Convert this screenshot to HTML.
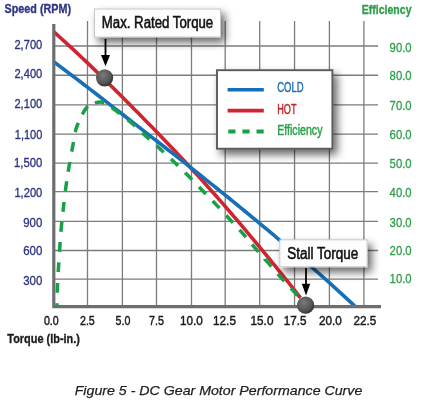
<!DOCTYPE html><html><head><meta charset="utf-8"><style>html,body{margin:0;padding:0;background:#fff;}svg{display:block;will-change:transform;}</style></head><body>
<svg width="434" height="417" viewBox="0 0 434 417">
<defs><filter id="sh" x="-30%" y="-40%" width="170%" height="200%"><feGaussianBlur in="SourceAlpha" stdDeviation="4"/><feOffset dx="4" dy="5" result="b"/><feComponentTransfer><feFuncA type="linear" slope="0.6"/></feComponentTransfer><feMerge><feMergeNode/><feMergeNode in="SourceGraphic"/></feMerge></filter><radialGradient id="dot" cx="40%" cy="35%" r="65%"><stop offset="0" stop-color="#7a7a7a"/><stop offset="0.7" stop-color="#555"/><stop offset="1" stop-color="#333"/></radialGradient></defs>
<rect width="434" height="417" fill="#fff"/>
<path d="M87.5 21V307M122.4 21V307M156.5 21V307M191.5 21V307M225.2 21V307M259.7 21V307M294.55 21V307M329.4 21V307M363.9 21V307M54 46.0H378M54 75.25H378M54 104.9H378M54 134.2H378M54 163.1H378M54 191.6H378M54 221.35H378M54 250.5H378M54 279.2H378" stroke="#7c7c7c" stroke-width="1.3" fill="none"/>
<path d="M53.60 31.67 L56.73 34.46 L59.85 37.27 L62.98 40.10 L66.10 42.94 L69.23 45.81 L72.35 48.69 L75.48 51.60 L78.60 54.52 L81.73 57.46 L84.85 60.41 L87.98 63.39 L91.10 66.38 L94.23 69.39 L97.35 72.42 L100.48 75.46 L103.61 78.51 L106.73 81.58 L109.86 84.66 L112.98 87.76 L116.11 90.86 L119.23 93.98 L122.36 97.10 L125.48 100.23 L128.61 103.37 L131.73 106.52 L134.86 109.68 L137.98 112.85 L141.11 116.02 L144.23 119.20 L147.36 122.39 L150.48 125.59 L153.61 128.79 L156.74 132.01 L159.86 135.24 L162.99 138.48 L166.11 141.73 L169.24 145.00 L172.36 148.28 L175.49 151.58 L178.61 154.89 L181.74 158.22 L184.86 161.56 L187.99 164.93 L191.11 168.31 L194.24 171.71 L197.36 175.13 L200.49 178.56 L203.62 182.02 L206.74 185.50 L209.87 188.99 L212.99 192.50 L216.12 196.04 L219.24 199.59 L222.37 203.15 L225.49 206.74 L228.62 210.34 L231.74 213.97 L234.87 217.60 L237.99 221.26 L241.12 224.93 L244.24 228.62 L247.37 232.33 L250.49 236.05 L253.62 239.79 L256.75 243.55 L259.87 247.32 L263.00 251.10 L266.12 254.91 L269.25 258.73 L272.37 262.56 L275.50 266.41 L278.62 270.28 L281.75 274.16 L284.87 278.05 L288.00 281.97 L291.12 285.89 L294.25 289.84 L297.37 293.80 L300.50 297.77" stroke="#cf2530" stroke-width="3.6" fill="none"/>
<path d="M53.60 61.62 L57.42 64.47 L61.24 67.34 L65.06 70.21 L68.89 73.10 L72.71 75.99 L76.53 78.89 L80.35 81.80 L84.17 84.72 L87.99 87.65 L91.82 90.59 L95.64 93.53 L99.46 96.48 L103.28 99.43 L107.10 102.39 L110.92 105.36 L114.74 108.32 L118.57 111.29 L122.39 114.27 L126.21 117.24 L130.03 120.21 L133.85 123.19 L137.67 126.16 L141.49 129.14 L145.32 132.11 L149.14 135.08 L152.96 138.06 L156.78 141.03 L160.60 144.01 L164.42 146.98 L168.25 149.96 L172.07 152.95 L175.89 155.94 L179.71 158.93 L183.53 161.93 L187.35 164.93 L191.17 167.94 L195.00 170.96 L198.82 173.99 L202.64 177.02 L206.46 180.07 L210.28 183.12 L214.10 186.18 L217.93 189.25 L221.75 192.33 L225.57 195.42 L229.39 198.52 L233.21 201.63 L237.03 204.74 L240.85 207.87 L244.68 211.00 L248.50 214.14 L252.32 217.28 L256.14 220.44 L259.96 223.60 L263.78 226.77 L267.61 229.94 L271.43 233.12 L275.25 236.31 L279.07 239.51 L282.89 242.71 L286.71 245.92 L290.53 249.13 L294.36 252.35 L298.18 255.58 L302.00 258.82 L305.82 262.08 L309.64 265.36 L313.46 268.67 L317.28 272.01 L321.11 275.37 L324.93 278.76 L328.75 282.17 L332.57 285.61 L336.39 289.07 L340.21 292.56 L344.04 296.07 L347.86 299.61 L351.68 303.18 L355.50 306.77" stroke="#1570b8" stroke-width="3.6" fill="none"/>
<path d="M57.00 306.00 L57.00 306.00 L57.01 305.61 L57.02 305.17 L57.02 304.68 L57.03 304.14 L57.04 303.56 L57.05 303.20M57.25 292.70 L57.25 292.63 L57.27 291.78 L57.30 290.94 L57.32 290.11 L57.35 289.29 L57.37 288.49 L57.40 287.70 L57.43 286.92 L57.47 286.13 L57.50 285.34 L57.54 284.54 L57.58 283.73 L57.62 282.91 L57.62 282.90M58.21 272.09 L58.21 272.07 L58.26 271.23 L58.31 270.40 L58.36 269.57 L58.41 268.74 L58.46 267.92 L58.51 267.10 L58.55 266.28 L58.60 265.46 L58.65 264.65 L58.70 263.83 L58.75 263.02 L58.79 262.31M59.46 251.79 L59.47 251.75 L59.52 250.94 L59.58 250.13 L59.63 249.32 L59.69 248.52 L59.74 247.71 L59.80 246.90 L59.86 246.09 L59.91 245.28 L59.97 244.48 L60.03 243.67 L60.08 242.86 L60.14 242.06 L60.14 242.01M60.92 231.68 L60.93 231.61 L61.00 230.80 L61.07 230.00 L61.13 229.20 L61.20 228.40 L61.28 227.60 L61.35 226.80 L61.42 226.00 L61.50 225.20 L61.58 224.41 L61.66 223.61 L61.74 222.82 L61.82 222.03 L61.83 221.92M62.94 211.77 L62.95 211.73 L63.04 210.93 L63.13 210.13 L63.22 209.32 L63.31 208.52 L63.41 207.71 L63.50 206.90 L63.59 206.09 L63.69 205.27 L63.78 204.44 L63.87 203.62 L63.97 202.79 L64.06 202.03M65.36 191.06 L65.37 190.99 L65.48 190.16 L65.58 189.34 L65.69 188.52 L65.80 187.71 L65.90 186.90 L66.01 186.10 L66.12 185.30 L66.24 184.51 L66.35 183.73 L66.46 182.94 L66.57 182.17 L66.69 181.39 L66.69 181.35M68.20 171.73 L68.21 171.65 L68.34 170.88 L68.46 170.11 L68.59 169.34 L68.72 168.56 L68.85 167.78 L68.98 167.00 L69.12 166.21 L69.25 165.42 L69.38 164.62 L69.52 163.82 L69.66 163.02 L69.80 162.22 L69.82 162.07M71.69 151.62 L71.70 151.59 L71.85 150.79 L72.00 149.99 L72.15 149.18 L72.30 148.39 L72.45 147.59 L72.60 146.80 L72.75 146.01 L72.89 145.22 L73.03 144.43 L73.17 143.63 L73.30 142.84 L73.43 142.05 L73.44 141.97M75.24 132.12 L75.25 132.09 L75.43 131.32 L75.62 130.57 L75.82 129.81 L76.03 129.07 L76.26 128.32 L76.49 127.58 L76.74 126.85 L77.00 126.10 L77.28 125.34 L77.57 124.58 L77.88 123.81 L78.20 123.04 L78.29 122.82M82.35 114.35 L82.38 114.29 L82.74 113.64 L83.08 113.01 L83.42 112.41 L83.76 111.83 L84.08 111.28 L84.39 110.76 L84.69 110.27 L84.98 109.82 L85.26 109.39 L85.52 109.00 L85.79 108.63 L86.04 108.29 L86.28 107.97 L86.53 107.67 L86.76 107.40 L86.99 107.14 L87.22 106.91 L87.45 106.69 L87.67 106.48 L87.87 106.31M94.88 102.91 L94.88 102.91 L95.25 102.81 L95.62 102.72 L95.99 102.63 L96.37 102.55 L96.73 102.47 L97.10 102.41 L97.46 102.34 L97.81 102.29 L98.16 102.24 L98.50 102.20 L98.83 102.16 L99.16 102.13 L99.47 102.11 L99.77 102.10 L100.06 102.09 L100.34 102.09 L100.61 102.09 L100.87 102.09 L101.12 102.11 L101.36 102.12 L101.60 102.15 L101.83 102.18 L102.06 102.22 L102.28 102.26 L102.50 102.31 L102.73 102.37 L102.95 102.43 L103.17 102.50 L103.40 102.58 L103.63 102.67 L103.87 102.76 L104.11 102.87 L104.36 102.98 L104.45 103.02M111.88 107.67 L111.90 107.69 L112.32 108.00 L112.75 108.31 L113.19 108.64 L113.64 108.98 L114.10 109.32 L114.57 109.67 L115.05 110.04 L115.55 110.41 L116.06 110.79 L116.58 111.19 L117.13 111.60 L117.69 112.03 L118.27 112.47 L118.87 112.92 L119.47 113.38 L119.70 113.56M127.63 119.78 L127.69 119.83 L128.35 120.36 L128.99 120.89 L129.63 121.41 L130.25 121.93 L130.87 122.45 L131.47 122.96 L132.07 123.48 L132.67 123.99 L133.26 124.51 L133.85 125.03 L134.43 125.55 L135.01 126.08 L135.08 126.14M142.20 132.77 L142.23 132.80 L142.80 133.33 L143.37 133.86 L143.94 134.39 L144.51 134.92 L145.08 135.45 L145.66 135.97 L146.23 136.49 L146.81 137.01 L147.38 137.53 L147.96 138.05 L148.54 138.56 L149.11 139.08 L149.44 139.37M156.56 145.72 L156.61 145.75 L157.18 146.27 L157.76 146.79 L158.33 147.31 L158.91 147.83 L159.48 148.35 L160.06 148.87 L160.63 149.39 L161.20 149.92 L161.78 150.44 L162.35 150.97 L162.93 151.49 L163.50 152.02 L163.81 152.31M170.94 158.93 L171.01 159.00 L171.58 159.53 L172.15 160.07 L172.72 160.61 L173.29 161.15 L173.86 161.69 L174.43 162.23 L175.00 162.77 L175.56 163.32 L176.13 163.86 L176.70 164.41 L177.27 164.95 L177.83 165.50 L178.04 165.69M185.14 172.63 L185.17 172.67 L185.73 173.22 L186.29 173.78 L186.85 174.34 L187.41 174.90 L187.97 175.47 L188.53 176.03 L189.09 176.59 L189.65 177.16 L190.20 177.73 L190.76 178.30 L191.31 178.88 L191.87 179.45 L192.02 179.61M199.01 186.96 L199.04 186.99 L199.59 187.56 L200.14 188.14 L200.68 188.72 L201.23 189.29 L201.78 189.86 L202.33 190.43 L202.88 191.00 L203.43 191.56 L203.98 192.12 L204.53 192.69 L205.07 193.25 L205.62 193.80 L205.82 194.01M212.65 200.97 L212.72 201.04 L213.26 201.60 L213.81 202.16 L214.35 202.72 L214.89 203.29 L215.44 203.86 L215.98 204.43 L216.53 205.00 L217.07 205.58 L217.61 206.15 L218.16 206.73 L218.70 207.31 L219.25 207.89 L219.41 208.07M226.28 215.50 L226.31 215.52 L226.85 216.11 L227.39 216.70 L227.92 217.28 L228.46 217.86 L229.00 218.45 L229.53 219.03 L230.07 219.61 L230.60 220.19 L231.14 220.76 L231.67 221.34 L232.21 221.92 L232.74 222.49 L232.93 222.69M239.53 229.85 L239.56 229.89 L240.08 230.46 L240.60 231.04 L241.12 231.62 L241.64 232.20 L242.16 232.77 L242.67 233.35 L243.18 233.94 L243.69 234.52 L244.20 235.10 L244.70 235.68 L245.20 236.27 L245.70 236.85 L246.01 237.21M252.07 244.42 L252.12 244.48 L252.62 245.07 L253.11 245.66 L253.61 246.24 L254.11 246.83 L254.62 247.42 L255.12 248.00 L255.63 248.59 L256.14 249.18 L256.65 249.76 L257.17 250.35 L257.68 250.93 L258.20 251.52 L258.48 251.84M264.96 259.12 L264.96 259.13 L265.48 259.71 L266.00 260.30 L266.52 260.89 L267.04 261.48 L267.56 262.06 L268.07 262.65 L268.59 263.24 L269.10 263.83 L269.61 264.42 L270.12 265.02 L270.64 265.61 L271.15 266.21 L271.40 266.51M277.76 273.92 L277.78 273.94 L278.29 274.53 L278.81 275.12 L279.32 275.70 L279.84 276.29 L280.35 276.87 L280.87 277.45 L281.39 278.04 L281.93 278.63 L282.47 279.22 L283.02 279.82 L283.58 280.43 L284.14 281.04 L284.30 281.22M290.84 288.19 L290.89 288.24 L291.40 288.79 L291.89 289.32 L292.37 289.84 L292.83 290.34 L293.27 290.83 L293.70 291.29 L294.10 291.75 L294.49 292.18 L294.86 292.61 L295.22 293.02 L295.57 293.43 L295.92 293.83 L296.24 294.22 L296.56 294.60 L296.87 294.97 L297.16 295.33 L297.33 295.53" stroke="#17a046" stroke-width="3.5" fill="none"/>
<path d="M53.8 24V306.6H381" stroke="#6e6e6e" stroke-width="3.2" fill="none"/>
<text x="4.6" y="13.0" font-family='"Liberation Sans", sans-serif' font-size="13" fill="#2e3581" font-weight="bold" font-style="normal" text-anchor="start" stroke="#2e3581" stroke-width="0.35" textLength="66.4" lengthAdjust="spacingAndGlyphs">Speed (RPM)</text>
<text x="361.8" y="14.4" font-family='"Liberation Sans", sans-serif' font-size="13" fill="#2c9e48" font-weight="bold" font-style="normal" text-anchor="start" stroke="#2c9e48" stroke-width="0.35" textLength="49.7" lengthAdjust="spacingAndGlyphs">Efficiency</text>
<text x="14.399999999999999" y="48.8" font-family='"Liberation Sans", sans-serif' font-size="13.2" fill="#2e3581" font-weight="normal" font-style="normal" text-anchor="start" stroke="#2e3581" stroke-width="0.35" textLength="27.9" lengthAdjust="spacingAndGlyphs">2,700</text>
<text x="14.399999999999999" y="78.4" font-family='"Liberation Sans", sans-serif' font-size="13.2" fill="#2e3581" font-weight="normal" font-style="normal" text-anchor="start" stroke="#2e3581" stroke-width="0.35" textLength="27.9" lengthAdjust="spacingAndGlyphs">2,400</text>
<text x="14.399999999999999" y="107.7" font-family='"Liberation Sans", sans-serif' font-size="13.2" fill="#2e3581" font-weight="normal" font-style="normal" text-anchor="start" stroke="#2e3581" stroke-width="0.35" textLength="27.9" lengthAdjust="spacingAndGlyphs">2,100</text>
<text x="14.799999999999997" y="138.9" font-family='"Liberation Sans", sans-serif' font-size="13.2" fill="#2e3581" font-weight="normal" font-style="normal" text-anchor="start" stroke="#2e3581" stroke-width="0.35" textLength="27.5" lengthAdjust="spacingAndGlyphs">1,100</text>
<text x="14.099999999999998" y="167.2" font-family='"Liberation Sans", sans-serif' font-size="13.2" fill="#2e3581" font-weight="normal" font-style="normal" text-anchor="start" stroke="#2e3581" stroke-width="0.35" textLength="28.2" lengthAdjust="spacingAndGlyphs">1,500</text>
<text x="14.399999999999999" y="196.8" font-family='"Liberation Sans", sans-serif' font-size="13.2" fill="#2e3581" font-weight="normal" font-style="normal" text-anchor="start" stroke="#2e3581" stroke-width="0.35" textLength="27.9" lengthAdjust="spacingAndGlyphs">1,200</text>
<text x="23.199999999999996" y="226.5" font-family='"Liberation Sans", sans-serif' font-size="13.2" fill="#2e3581" font-weight="normal" font-style="normal" text-anchor="start" stroke="#2e3581" stroke-width="0.35" textLength="19.1" lengthAdjust="spacingAndGlyphs">900</text>
<text x="23.199999999999996" y="255.2" font-family='"Liberation Sans", sans-serif' font-size="13.2" fill="#2e3581" font-weight="normal" font-style="normal" text-anchor="start" stroke="#2e3581" stroke-width="0.35" textLength="19.1" lengthAdjust="spacingAndGlyphs">600</text>
<text x="23.199999999999996" y="284.7" font-family='"Liberation Sans", sans-serif' font-size="13.2" fill="#2e3581" font-weight="normal" font-style="normal" text-anchor="start" stroke="#2e3581" stroke-width="0.35" textLength="19.1" lengthAdjust="spacingAndGlyphs">300</text>
<text x="389.6" y="52.2" font-family='"Liberation Sans", sans-serif' font-size="13.3" fill="#2c9e48" font-weight="normal" font-style="normal" text-anchor="start" stroke="#2c9e48" stroke-width="0.3" textLength="22" lengthAdjust="spacingAndGlyphs">90.0</text>
<text x="389.6" y="80.2" font-family='"Liberation Sans", sans-serif' font-size="13.3" fill="#2c9e48" font-weight="normal" font-style="normal" text-anchor="start" stroke="#2c9e48" stroke-width="0.3" textLength="22" lengthAdjust="spacingAndGlyphs">80.0</text>
<text x="389.6" y="109.7" font-family='"Liberation Sans", sans-serif' font-size="13.3" fill="#2c9e48" font-weight="normal" font-style="normal" text-anchor="start" stroke="#2c9e48" stroke-width="0.3" textLength="22" lengthAdjust="spacingAndGlyphs">70.0</text>
<text x="389.6" y="139.1" font-family='"Liberation Sans", sans-serif' font-size="13.3" fill="#2c9e48" font-weight="normal" font-style="normal" text-anchor="start" stroke="#2c9e48" stroke-width="0.3" textLength="22" lengthAdjust="spacingAndGlyphs">60.0</text>
<text x="389.6" y="167.79999999999998" font-family='"Liberation Sans", sans-serif' font-size="13.3" fill="#2c9e48" font-weight="normal" font-style="normal" text-anchor="start" stroke="#2c9e48" stroke-width="0.3" textLength="22" lengthAdjust="spacingAndGlyphs">50.0</text>
<text x="389.6" y="197.29999999999998" font-family='"Liberation Sans", sans-serif' font-size="13.3" fill="#2c9e48" font-weight="normal" font-style="normal" text-anchor="start" stroke="#2c9e48" stroke-width="0.3" textLength="22" lengthAdjust="spacingAndGlyphs">40.0</text>
<text x="389.6" y="227.0" font-family='"Liberation Sans", sans-serif' font-size="13.3" fill="#2c9e48" font-weight="normal" font-style="normal" text-anchor="start" stroke="#2c9e48" stroke-width="0.3" textLength="22" lengthAdjust="spacingAndGlyphs">30.0</text>
<text x="389.6" y="255.0" font-family='"Liberation Sans", sans-serif' font-size="13.3" fill="#2c9e48" font-weight="normal" font-style="normal" text-anchor="start" stroke="#2c9e48" stroke-width="0.3" textLength="22" lengthAdjust="spacingAndGlyphs">20.0</text>
<text x="389.6" y="283.3" font-family='"Liberation Sans", sans-serif' font-size="13.3" fill="#2c9e48" font-weight="normal" font-style="normal" text-anchor="start" stroke="#2c9e48" stroke-width="0.3" textLength="22" lengthAdjust="spacingAndGlyphs">10.0</text>
<text x="43.9" y="325.4" font-family='"Liberation Sans", sans-serif' font-size="13.2" fill="#1a1a1a" font-weight="normal" font-style="normal" text-anchor="start" stroke="#1a1a1a" stroke-width="0.45" textLength="14.8" lengthAdjust="spacingAndGlyphs">0.0</text>
<text x="80.0" y="325.4" font-family='"Liberation Sans", sans-serif' font-size="13.2" fill="#1a1a1a" font-weight="normal" font-style="normal" text-anchor="start" stroke="#1a1a1a" stroke-width="0.45" textLength="14.8" lengthAdjust="spacingAndGlyphs">2.5</text>
<text x="115.6" y="325.4" font-family='"Liberation Sans", sans-serif' font-size="13.2" fill="#1a1a1a" font-weight="normal" font-style="normal" text-anchor="start" stroke="#1a1a1a" stroke-width="0.45" textLength="14.8" lengthAdjust="spacingAndGlyphs">5.0</text>
<text x="149.1" y="325.4" font-family='"Liberation Sans", sans-serif' font-size="13.2" fill="#1a1a1a" font-weight="normal" font-style="normal" text-anchor="start" stroke="#1a1a1a" stroke-width="0.45" textLength="14.8" lengthAdjust="spacingAndGlyphs">7.5</text>
<text x="179.9" y="325.4" font-family='"Liberation Sans", sans-serif' font-size="13.2" fill="#1a1a1a" font-weight="normal" font-style="normal" text-anchor="start" stroke="#1a1a1a" stroke-width="0.45" textLength="22.8" lengthAdjust="spacingAndGlyphs">10.0</text>
<text x="213.1" y="325.4" font-family='"Liberation Sans", sans-serif' font-size="13.2" fill="#1a1a1a" font-weight="normal" font-style="normal" text-anchor="start" stroke="#1a1a1a" stroke-width="0.45" textLength="22.8" lengthAdjust="spacingAndGlyphs">12.5</text>
<text x="250.6" y="325.4" font-family='"Liberation Sans", sans-serif' font-size="13.2" fill="#1a1a1a" font-weight="normal" font-style="normal" text-anchor="start" stroke="#1a1a1a" stroke-width="0.45" textLength="22.8" lengthAdjust="spacingAndGlyphs">15.0</text>
<text x="283.8" y="325.4" font-family='"Liberation Sans", sans-serif' font-size="13.2" fill="#1a1a1a" font-weight="normal" font-style="normal" text-anchor="start" stroke="#1a1a1a" stroke-width="0.45" textLength="22.8" lengthAdjust="spacingAndGlyphs">17.5</text>
<text x="319.0" y="325.4" font-family='"Liberation Sans", sans-serif' font-size="13.2" fill="#1a1a1a" font-weight="normal" font-style="normal" text-anchor="start" stroke="#1a1a1a" stroke-width="0.45" textLength="22.8" lengthAdjust="spacingAndGlyphs">20.0</text>
<text x="353.40000000000003" y="325.4" font-family='"Liberation Sans", sans-serif' font-size="13.2" fill="#1a1a1a" font-weight="normal" font-style="normal" text-anchor="start" stroke="#1a1a1a" stroke-width="0.45" textLength="22.8" lengthAdjust="spacingAndGlyphs">22.5</text>
<text x="7.3" y="343.4" font-family='"Liberation Sans", sans-serif' font-size="13.5" fill="#1a1a1a" font-weight="bold" font-style="normal" text-anchor="start" stroke="#1a1a1a" stroke-width="0.35" textLength="72.6" lengthAdjust="spacingAndGlyphs">Torque (lb-in.)</text>
<g filter="url(#sh)"><rect x="217" y="70.2" width="115.4" height="78.5" fill="#fff" stroke="#5a5a5a" stroke-width="1.9"/></g>
<path d="M227.6 89.8H263.8" stroke="#1570b8" stroke-width="3.6"/>
<path d="M227.6 110.6H263.8" stroke="#cf2530" stroke-width="3.6"/>
<path d="M228.3 131.5H264" stroke="#17a046" stroke-width="3.8" stroke-dasharray="7.2 6.9"/>
<text x="277.2" y="91.8" font-family='"Liberation Sans", sans-serif' font-size="13.8" fill="#1f6db5" font-weight="normal" font-style="normal" text-anchor="start" stroke="#1f6db5" stroke-width="0.45" textLength="26.3" lengthAdjust="spacingAndGlyphs">COLD</text>
<text x="277.2" y="114.4" font-family='"Liberation Sans", sans-serif' font-size="13.8" fill="#c0272d" font-weight="normal" font-style="normal" text-anchor="start" stroke="#c0272d" stroke-width="0.45" textLength="19.3" lengthAdjust="spacingAndGlyphs">HOT</text>
<text x="277.2" y="135.4" font-family='"Liberation Sans", sans-serif' font-size="13.8" fill="#2ca04a" font-weight="normal" font-style="normal" text-anchor="start" stroke="#2ca04a" stroke-width="0.45" textLength="45.3" lengthAdjust="spacingAndGlyphs">Efficiency</text>
<g filter="url(#sh)"><rect x="94.5" y="9" width="126" height="28" fill="#fdfdfd" stroke="#c8c8c8" stroke-width="1"/></g>
<text x="101.8" y="28.2" font-family='"Liberation Sans", sans-serif' font-size="15.6" fill="#111" font-weight="normal" font-style="normal" text-anchor="start" stroke="#111" stroke-width="0.55" textLength="111.4" lengthAdjust="spacingAndGlyphs">Max. Rated Torque</text>
<g filter="url(#sh)"><rect x="279.8" y="239.8" width="87.3" height="27" fill="#fdfdfd" stroke="#c8c8c8" stroke-width="1"/></g>
<text x="287.2" y="258.6" font-family='"Liberation Sans", sans-serif' font-size="15.6" fill="#111" font-weight="normal" font-style="normal" text-anchor="start" stroke="#111" stroke-width="0.55" textLength="71" lengthAdjust="spacingAndGlyphs">Stall Torque</text>
<path d="M105.5 39V56" stroke="#000" stroke-width="1.8"/><path d="M101 55H110L105.5 66.3Z" fill="#000"/>
<path d="M306 268V285" stroke="#000" stroke-width="1.8"/><path d="M301.8 283.8H310.2L306 295.5Z" fill="#000"/>
<circle cx="104.6" cy="77.8" r="8.6" fill="url(#dot)"/>
<circle cx="305.6" cy="305.2" r="8.6" fill="url(#dot)"/>
<text x="74.7" y="394.6" font-family='"Liberation Sans", sans-serif' font-size="13.5" fill="#1e1e1e" font-weight="normal" font-style="italic" text-anchor="start" stroke="#1e1e1e" stroke-width="0.25" textLength="287.6" lengthAdjust="spacingAndGlyphs">Figure 5 - DC Gear Motor Performance Curve</text>
</svg></body></html>
